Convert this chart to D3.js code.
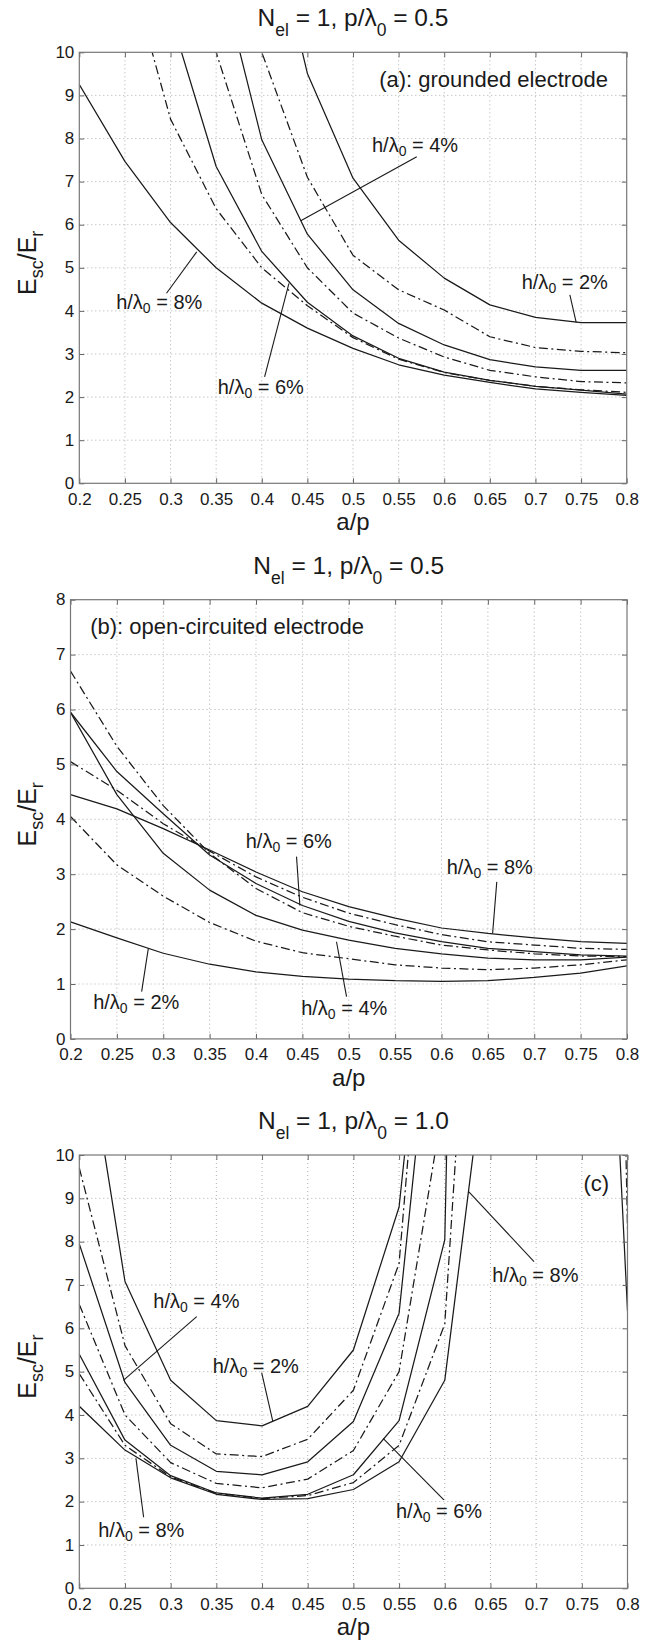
<!DOCTYPE html>
<html><head><meta charset="utf-8">
<script src="https://cdn.jsdelivr.net/npm/d3@7"></script>
<style>
body{margin:0;background:#fff}
text{font-family:"Liberation Sans",Arial,Helvetica,sans-serif;fill:#1a1a1a}
</style>
</head><body>
<svg id="fig" width="658" height="1643"></svg>
<script>
// ---------- data ----------
const aOverP = [0.2,0.25,0.3,0.35,0.4,0.45,0.5,0.55,0.6,0.65,0.7,0.75,0.8];
const hLabels = ["2%","3%","4%","5%","6%","7%","8%"];
const yTicksA = [0,1,2,3,4,5,6,7,8,9,10];
const yTicksB = [0,1,2,3,4,5,6,7,8];

// (a) grounded electrode, p/λ0 = 0.5
const groundedH2 = [null,null,null,null,13.96,9.51,7.08,5.64,4.76,4.14,3.85,3.73,3.73];
const groundedH3 = [null,null,null,14.0,10.0,7.1,5.29,4.49,4.02,3.4,3.15,3.06,3.03];
const groundedH4 = [null,null,null,12.2,7.97,5.78,4.49,3.71,3.21,2.87,2.7,2.62,2.62];
const groundedH5 = [null,null,15.0,10.0,6.7,5.0,3.95,3.37,2.93,2.62,2.47,2.36,2.33];
const groundedH6 = [null,16.0,10.84,7.35,5.38,4.2,3.42,2.9,2.58,2.39,2.25,2.16,2.07];
const groundedH7 = [17.0,12.3,8.45,6.37,5.0,4.12,3.38,2.88,2.57,2.39,2.25,2.17,2.11];
const groundedH8 = [9.25,7.47,6.05,5.0,4.18,3.6,3.13,2.75,2.51,2.34,2.19,2.11,2.04];

// (b) open-circuited electrode, p/λ0 = 0.5
const openH2 = [2.13,1.84,1.56,1.36,1.22,1.14,1.09,1.06,1.05,1.06,1.12,1.2,1.33];
const openH3 = [4.05,3.17,2.6,2.12,1.78,1.57,1.46,1.35,1.29,1.26,1.29,1.35,1.44];
const openH4 = [5.95,4.45,3.38,2.71,2.25,1.98,1.8,1.65,1.55,1.47,1.44,1.44,1.49];
const openH5 = [6.7,5.33,4.25,3.38,2.74,2.3,2.05,1.87,1.71,1.62,1.55,1.51,1.5];
const openH6 = [5.95,4.87,4.1,3.35,2.83,2.43,2.14,1.93,1.77,1.65,1.59,1.53,1.51];
const openH7 = [5.05,4.53,3.92,3.42,2.95,2.58,2.29,2.08,1.9,1.77,1.71,1.65,1.63];
const openH8 = [4.45,4.19,3.83,3.44,3.04,2.68,2.41,2.2,2.02,1.92,1.84,1.77,1.74];

// (c) p/λ0 = 1.0
const p1H2 = [13.7,7.08,4.8,3.87,3.75,4.2,5.5,8.8,18.8,40,40,28,6.4];
const p1H3 = [9.7,5.6,3.8,3.1,3.04,3.44,4.57,7.5,20,60,60,60,8.3];
const p1H4 = [7.95,4.75,3.3,2.7,2.62,2.92,3.85,6.35,16.5,null,null,null,null];
const p1H5 = [6.55,4.0,2.9,2.42,2.32,2.52,3.18,5.0,11.4,null,null,null,null];
const p1H6 = [5.4,3.42,2.6,2.2,2.08,2.17,2.62,3.87,8.04,57,null,null,null];
const p1H7 = [4.95,3.3,2.57,2.19,2.07,2.14,2.44,3.3,6.1,22.3,null,null,null];
const p1H8 = [4.2,3.19,2.55,2.17,2.05,2.07,2.28,2.92,4.8,13.2,null,null,null];

// ---------- layout ----------
const panels = [
  {id:"a", left:79.3, right:626.7, top:52.3, bottom:483.3, ymax:10, yTicks:yTicksA, pOverL:"0.5",
   series:[groundedH2,groundedH3,groundedH4,groundedH5,groundedH6,groundedH7,groundedH8],
   tag:{text:"(a): grounded electrode", x:0.5287, y:9.188},
   notes:[
     {h:"4%", tx:0.5208, ty:7.694, l:[0.5699,7.578,0.4427,6.093]},
     {h:"2%", tx:0.6849, ty:4.501, l:[0.7377,4.37,0.7447,3.73]},
     {h:"8%", tx:0.2404, ty:4.037, l:[0.3287,5.37,0.2956,4.41]},
     {h:"6%", tx:0.3517, ty:2.072, l:[0.4298,4.64,0.4031,2.47]}]},
  {id:"b", left:70.5, right:627, top:599.7, bottom:1038.9, ymax:8, yTicks:yTicksB, pOverL:"0.5",
   series:[openH2,openH3,openH4,openH5,openH6,openH7,openH8],
   tag:{text:"(b): open-circuited electrode", x:0.2212, y:7.375},
   notes:[
     {h:"6%", tx:0.3889, ty:3.472, l:[0.4437,3.32,0.4473,2.43]},
     {h:"8%", tx:0.6056, ty:3.004, l:[0.6596,2.86,0.6551,1.92]},
     {h:"2%", tx:0.2244, ty:0.539, l:[0.2839,1.65,0.2767,0.86]},
     {h:"4%", tx:0.4487, ty:0.435, l:[0.4868,1.77,0.4976,0.77]}]},
  {id:"c", left:79.3, right:627.5, top:1155, bottom:1588.3, ymax:10, yTicks:yTicksA, pOverL:"1.0",
   series:[p1H2,p1H3,p1H4,p1H5,p1H6,p1H7,p1H8],
   tag:{text:"(c)", x:0.7518, y:9.176},
   notes:[
     {h:"4%", tx:0.281, ty:6.462, l:[0.3285,6.268,0.2482,4.8]},
     {h:"2%", tx:0.346, ty:4.962, l:[0.3996,4.976,0.4118,3.85]},
     {h:"8%", tx:0.652, ty:7.076, l:[0.6264,9.15,0.6977,7.54]},
     {h:"6%", tx:0.5466, ty:1.616, l:[0.5325,3.46,0.599,2.04]},
     {h:"8%", tx:0.2207, ty:1.191, l:[0.262,3.0,0.2704,1.64]}]}
];

const svg = d3.select("#fig");
const ink = "#1a1a1a";
const fmt = d => String(+d.toFixed(2));

function subText(sel, parts, subSize, shift) {
  parts.forEach(([t, sub], i) => {
    const ts = sel.append("tspan").text(t);
    if (sub) ts.attr("font-size", subSize).attr("dy", shift);
    else if (i > 0 && parts[i-1][1]) ts.attr("dy", -shift);
  });
}

panels.forEach(p => {
  const x = d3.scaleLinear().domain([0.2,0.8]).range([p.left,p.right]);
  const y = d3.scaleLinear().domain([0,p.ymax]).range([p.bottom,p.top]);
  const g = svg.append("g");

  // grid
  g.append("g").selectAll("line").data(aOverP.slice(1,-1)).join("line")
    .attr("x1",d=>x(d)).attr("x2",d=>x(d)).attr("y1",p.top).attr("y2",p.bottom)
    .attr("stroke","#9a9a9a").attr("stroke-width",0.8).attr("stroke-dasharray","1,3");
  g.append("g").selectAll("line").data(p.yTicks.slice(1,-1)).join("line")
    .attr("x1",p.left).attr("x2",p.right).attr("y1",d=>y(d)).attr("y2",d=>y(d))
    .attr("stroke","#9a9a9a").attr("stroke-width",0.8).attr("stroke-dasharray","1,3");

  // curves
  const clipId = "clip-" + p.id;
  svg.append("clipPath").attr("id",clipId).append("rect")
    .attr("x",p.left).attr("y",p.top).attr("width",p.right-p.left).attr("height",p.bottom-p.top);
  const line = d3.line().defined(d=>d[1]!=null).x(d=>x(d[0])).y(d=>y(d[1]));
  g.append("g").attr("clip-path",`url(#${clipId})`).selectAll("path")
    .data(p.series).join("path")
    .attr("d", s => line(aOverP.map((v,i)=>[v,s[i]])))
    .attr("fill","none").attr("stroke",ink).attr("stroke-width",1.25)
    .attr("stroke-linejoin","round")
    .attr("stroke-dasharray",(s,i)=> i%2===1 ? "9,3.5,2,3.5" : null);

  // axes
  const axes = g.append("g");
  const styleAxis = sel => {
    sel.attr("font-family",null).attr("font-size",null);
    sel.selectAll(".tick line").attr("stroke","#666").attr("stroke-width",1);
    sel.selectAll(".domain").remove();
    sel.selectAll("text").attr("font-size",17).attr("fill",ink);
  };
  axes.append("g").attr("transform",`translate(0,${p.bottom})`)
    .call(d3.axisBottom(x).tickValues(aOverP).tickSizeInner(-5).tickSizeOuter(0).tickPadding(9.5).tickFormat(fmt)).call(styleAxis);
  axes.append("g").attr("transform",`translate(0,${p.top})`)
    .call(d3.axisTop(x).tickValues(aOverP).tickSizeInner(-5).tickSizeOuter(0).tickFormat("")).call(styleAxis);
  const yAx = axes.append("g").attr("transform",`translate(${p.left},0)`)
    .call(d3.axisLeft(y).tickValues(p.yTicks).tickSizeInner(-5).tickSizeOuter(0).tickPadding(5).tickFormat(d3.format("d"))).call(styleAxis);
  yAx.selectAll("text").attr("dy","0.3em");
  axes.append("g").attr("transform",`translate(${p.right},0)`)
    .call(d3.axisRight(y).tickValues(p.yTicks).tickSizeInner(-5).tickSizeOuter(0).tickFormat("")).call(styleAxis);
  axes.append("rect").attr("x",p.left).attr("y",p.top).attr("width",p.right-p.left).attr("height",p.bottom-p.top)
    .attr("fill","none").attr("stroke","#777").attr("stroke-width",1.2);

  const cx = (p.left+p.right)/2;
  // title
  const t = g.append("text").attr("x",cx).attr("y",p.top-26).attr("text-anchor","middle").attr("font-size",24.5);
  subText(t, [["N",0],["el",1],[" = 1, p/λ",0],["0",1],[" = "+p.pOverL,0]], 17.5, 10);
  // x label
  g.append("text").attr("x",cx).attr("y",p.bottom+47).attr("text-anchor","middle").attr("font-size",24).text("a/p");
  // y label
  const yl = g.append("text").attr("transform",`translate(36,${(p.top+p.bottom)/2-5}) rotate(-90)`)
    .attr("text-anchor","middle").attr("font-size",25);
  subText(yl, [["E",0],["sc",1],["/E",0],["r",1]], 18, 6.5);

  // panel tag
  g.append("text").attr("x",x(p.tag.x)).attr("y",y(p.tag.y)).attr("font-size",22).text(p.tag.text);

  // annotations
  p.notes.forEach(n => {
    g.append("line").attr("x1",x(n.l[0])).attr("y1",y(n.l[1])).attr("x2",x(n.l[2])).attr("y2",y(n.l[3]))
      .attr("stroke",ink).attr("stroke-width",1.1);
    const tx = g.append("text").attr("x",x(n.tx)).attr("y",y(n.ty)).attr("font-size",20);
    subText(tx, [["h/λ",0],["0",1],[" = "+n.h,0]], 14, 4);
  });
});
</script>
</body></html>
